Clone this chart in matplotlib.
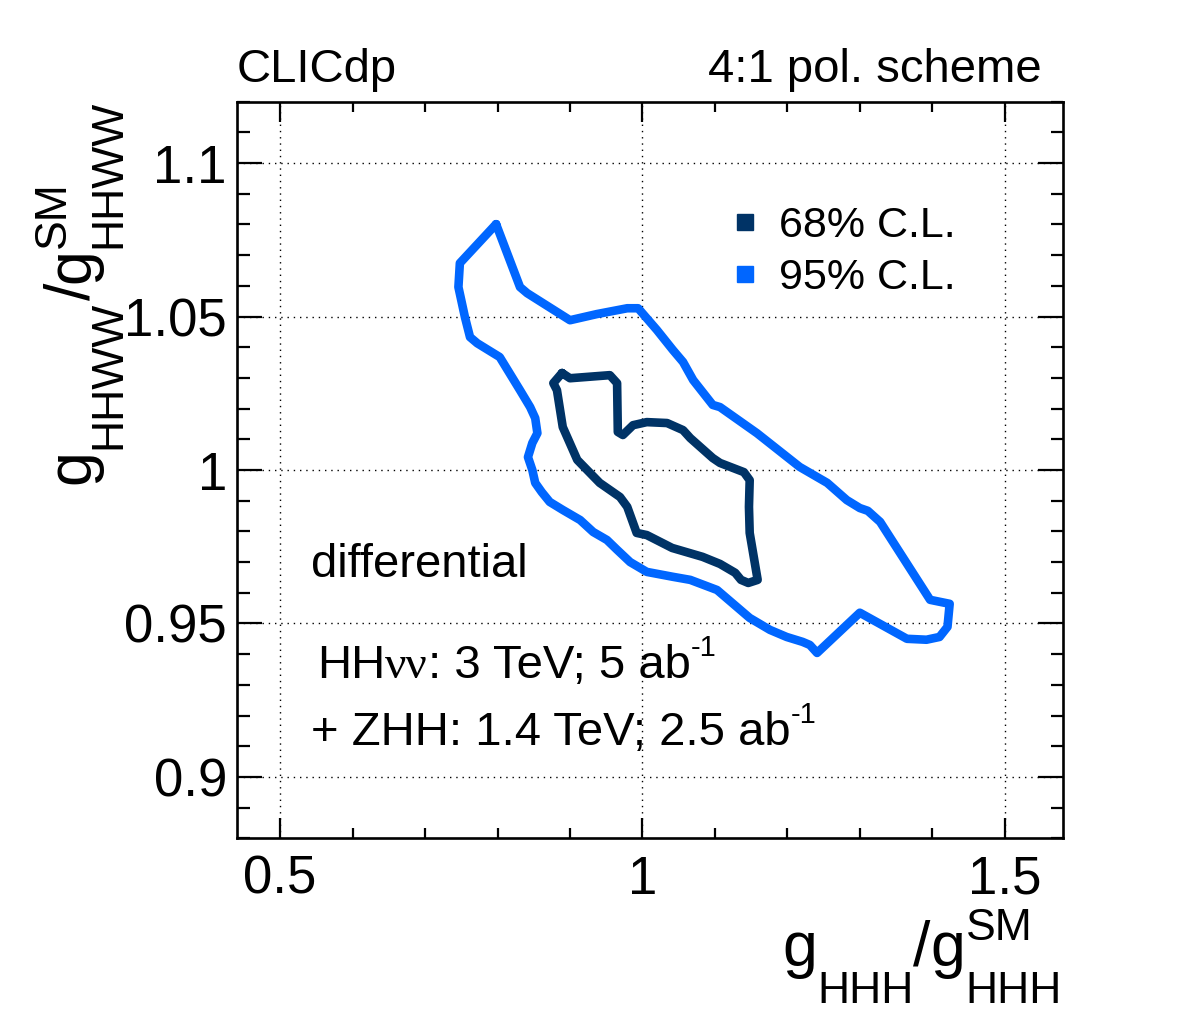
import matplotlib
matplotlib.use('Agg')
import matplotlib.pyplot as plt
import numpy as np
from matplotlib.lines import Line2D
from matplotlib.ticker import MultipleLocator, FixedLocator, FixedFormatter

SANS = ['Liberation Sans', 'DejaVu Sans']
SERIF = ['Liberation Serif', 'DejaVu Serif']
plt.rcParams['font.family'] = SANS

# ---------------- data ----------------
# 95% C.L. contour (g_HHH/g_SM, g_HHWW/g_SM)
cl95_x = [0.798, 0.831, 0.841, 0.900, 0.937, 0.979, 0.994, 1.020, 1.042, 1.056,
          1.070, 1.097, 1.107, 1.158, 1.217, 1.255, 1.282, 1.300, 1.311, 1.328,
          1.397, 1.424, 1.421, 1.410, 1.392, 1.365, 1.300, 1.241, 1.231, 1.221,
          1.199, 1.176, 1.148, 1.103, 1.066, 1.042, 1.006, 0.983, 0.965, 0.951,
          0.932, 0.914, 0.890, 0.872, 0.861, 0.852, 0.848, 0.842, 0.848, 0.855,
          0.852, 0.845, 0.831, 0.803, 0.794, 0.772, 0.762, 0.755, 0.746, 0.748]
cl95_y = [1.0801, 1.0596, 1.0576, 1.0488, 1.0508, 1.0527, 1.0527, 1.0456, 1.0391, 1.0352,
          1.0293, 1.0212, 1.0205, 1.0120, 1.0010, 0.9958, 0.9902, 0.9876, 0.9867, 0.9831,
          0.9577, 0.9564, 0.9489, 0.9456, 0.9447, 0.9450, 0.9535, 0.9404, 0.9430, 0.9440,
          0.9456, 0.9479, 0.9518, 0.9609, 0.9642, 0.9652, 0.9668, 0.9700, 0.9740, 0.9772,
          0.9798, 0.9837, 0.9870, 0.9896, 0.9928, 0.9958, 1.0000, 1.0042, 1.0088, 1.0120,
          1.0169, 1.0205, 1.0260, 1.0368, 1.0381, 1.0413, 1.0433, 1.0498, 1.0596, 1.0674]

# 68% C.L. contour
cl68_x = [0.889, 0.877, 0.882, 0.890, 0.910, 0.941, 0.969, 0.979, 0.992, 1.006,
          1.041, 1.083, 1.107, 1.128, 1.136, 1.146, 1.159, 1.148, 1.147, 1.148,
          1.140, 1.107, 1.097, 1.066, 1.056, 1.034, 1.006, 0.987, 0.973, 0.966,
          0.965, 0.955, 0.900]
cl68_y = [1.0316, 1.0283, 1.0260, 1.0140, 1.0033, 0.9958, 0.9912, 0.9880, 0.9795, 0.9788,
          0.9746, 0.9717, 0.9694, 0.9665, 0.9642, 0.9632, 0.9642, 0.9795, 0.9880, 0.9967,
          0.9993, 1.0023, 1.0039, 1.0104, 1.0130, 1.0153, 1.0156, 1.0146, 1.0114, 1.0124,
          1.0283, 1.0309, 1.0299]

xtick_vals = [0.5, 1.0, 1.5]
xtick_labels = ['0.5', '1', '1.5']
ytick_vals = [0.90, 0.95, 1.00, 1.05, 1.10]
ytick_labels = ['0.9', '0.95', '1', '1.05', '1.1']

series_labels = ['68% C.L.', '95% C.L.']
col68 = '#003366'
col95 = '#0066ff'

# ---------------- figure ----------------
W, H = 1182, 1011
fig = plt.figure(figsize=(W / 100, H / 100), dpi=100)
renderer = fig.canvas.get_renderer()


def fx(px):
    return px / W


def fy(py):
    return 1 - py / H


ax = fig.add_axes([fx(236.7), fy(838.3), (1062.7 - 236.7) / W, (838.3 - 101.7) / H])

x95 = np.append(cl95_x, cl95_x[0]); y95 = np.append(cl95_y, cl95_y[0])
x68 = np.append(cl68_x, cl68_x[0]); y68 = np.append(cl68_y, cl68_y[0])
ax.plot(x95, y95, color=col95, lw=6.2, solid_joinstyle='round', solid_capstyle='round', zorder=3)
ax.plot(x68, y68, color=col68, lw=6.2, solid_joinstyle='round', solid_capstyle='round', zorder=4)

ax.set_xlim(0.44, 1.58)
ax.set_ylim(0.88, 1.12)

ax.xaxis.set_major_locator(FixedLocator(xtick_vals))
ax.xaxis.set_major_formatter(FixedFormatter(xtick_labels))
ax.yaxis.set_major_locator(FixedLocator(ytick_vals))
ax.yaxis.set_major_formatter(FixedFormatter(ytick_labels))
ax.xaxis.set_minor_locator(MultipleLocator(0.1))
ax.yaxis.set_minor_locator(MultipleLocator(0.01))

ax.tick_params(which='both', direction='in', top=True, right=True, width=1.6, color='black')
ax.tick_params(axis='x', which='major', length=14.5, labelsize=38, pad=12)
ax.tick_params(axis='x', which='minor', length=7)
ax.tick_params(axis='y', which='major', length=18, labelsize=38, pad=7)
ax.tick_params(axis='y', which='minor', length=9)

for s in ax.spines.values():
    s.set_linewidth(1.9)

ax.set_axisbelow(True)
ax.grid(True, which='major', color='black', linestyle=(0, (1, 3.5)), linewidth=1.0)

# legend
handles = [Line2D([], [], ls='none', marker='s', markersize=11, color=c, mec=c)
           for c in (col68, col95)]
leg = ax.legend(handles, series_labels, loc='upper left',
                bbox_to_anchor=(fx(734), fy(206)), bbox_transform=fig.transFigure,
                frameon=False, fontsize=31, handlelength=0.5, handletextpad=0.55,
                labelspacing=0.27, borderpad=0, borderaxespad=0)


# ---------- helper for TLatex-like composed text ----------
def text_width(s, size, family):
    t = fig.text(0, 0, s, fontsize=size, family=family)
    w = t.get_window_extent(renderer).width
    t.remove()
    return w


def chain(groups, x0, y0, rotation=0, align='left'):
    """groups: list of lists of (string, size, raise_px, family); items in a
    group share the same start position; advance = widest item."""
    advs = [max(text_width(s, sz, fam) for s, sz, d, fam in g) for g in groups]
    total = sum(advs)
    start = 0 if align == 'left' else -total
    pos = start
    for g, a in zip(groups, advs):
        for s, sz, d, fam in g:
            if rotation == 0:
                px, py = x0 + pos, y0 - d
            else:
                px, py = x0 - d, y0 - pos
            fig.text(fx(px), fy(py), s, fontsize=sz, family=fam, rotation=rotation,
                     rotation_mode='anchor', ha='left', va='baseline')
        pos += a


# annotations
fig.text(fx(237), fy(82), 'CLICdp', fontsize=34, ha='left', va='baseline')
fig.text(fx(1042), fy(82), '4:1 pol. scheme', fontsize=34, ha='right', va='baseline')
fig.text(fx(311), fy(577), 'differential', fontsize=34, ha='left', va='baseline')

chain([[('HH', 34, 0, SANS)], [('\u03bd\u03bd', 34, 0, SERIF)],
       [(': 3 TeV; 5 ab', 34, 0, SANS)], [('-1', 21, 22, SANS)]], 317, 678)
chain([[('+ ZHH: 1.4 TeV; 2.5 ab', 34, 0, SANS)], [('-1', 21, 22, SANS)]], 311, 745)

# axis titles
MAIN, SUB = 45, 32
chain([[('g', MAIN, 0, SANS)], [('HHH', SUB, -37, SANS)], [('/', MAIN, 0, SANS)],
       [('g', MAIN, 0, SANS)], [('SM', SUB, 26, SANS), ('HHH', SUB, -37, SANS)]],
      1062, 966, rotation=0, align='right')
chain([[('g', MAIN, 0, SANS)], [('HHWW', SUB, -31, SANS)], [('/', MAIN, 0, SANS)],
       [('g', MAIN, 0, SANS)], [('SM', SUB, 24, SANS), ('HHWW', SUB, -31, SANS)]],
      89, 100, rotation=90, align='right')

fig.savefig('out.png', dpi=100)
